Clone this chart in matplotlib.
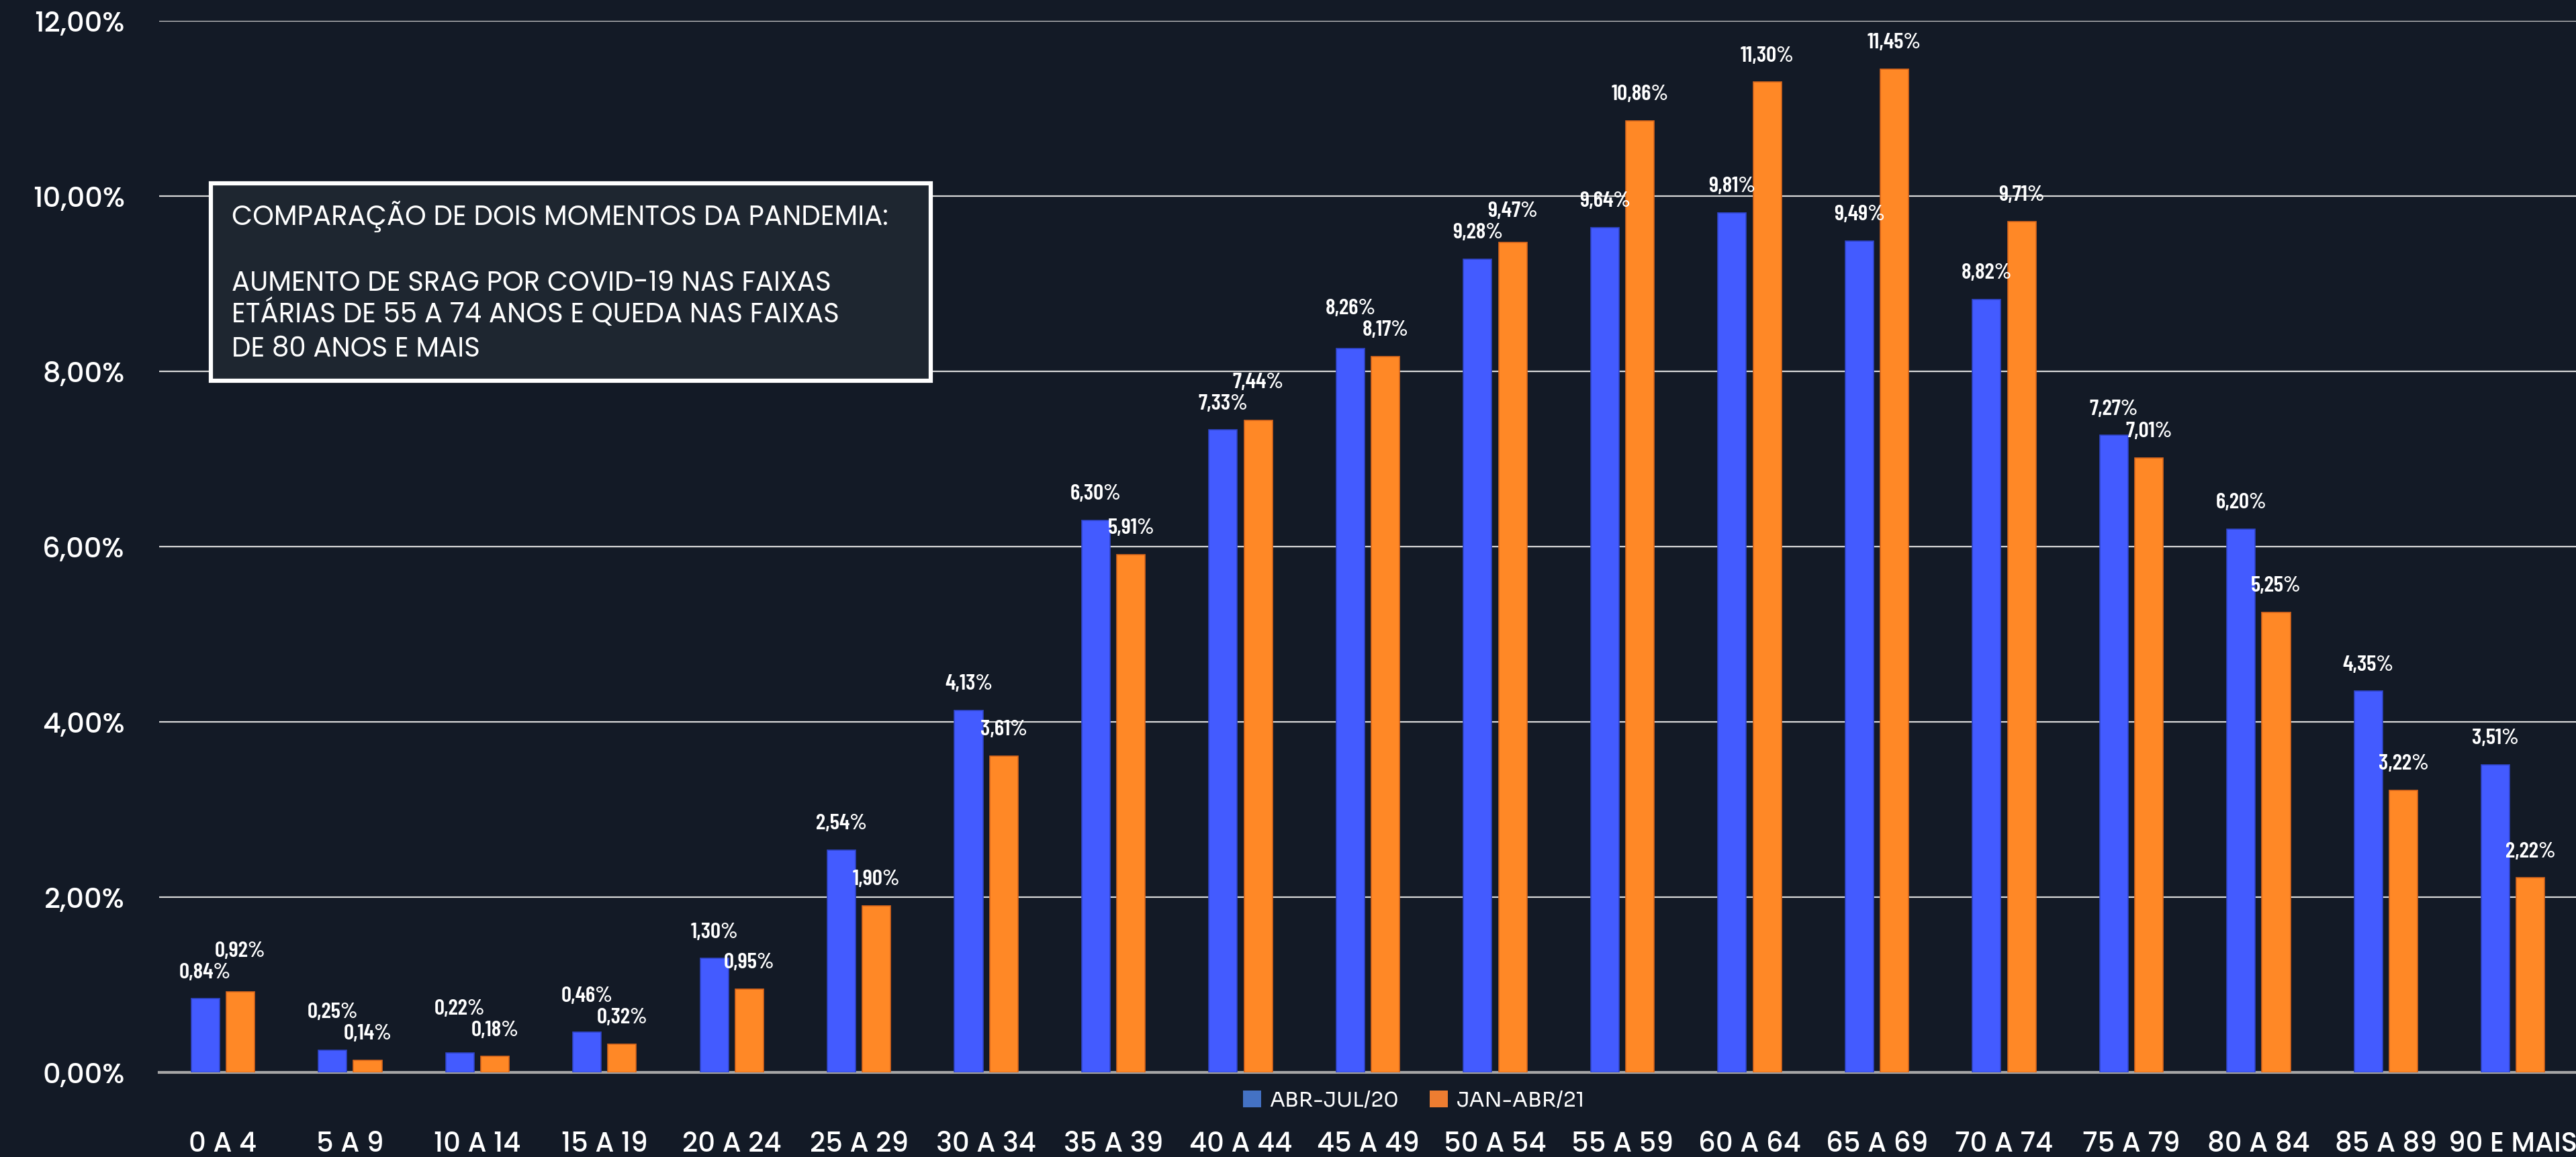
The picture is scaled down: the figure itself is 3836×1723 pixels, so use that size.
import matplotlib
matplotlib.use("Agg")
import matplotlib.pyplot as plt
from matplotlib import font_manager as fm
from matplotlib.patches import Rectangle, Patch
import numpy as np

categories = ["0 A 4", "5 A 9", "10 A 14", "15 A 19", "20 A 24", "25 A 29", "30 A 34",
              "35 A 39", "40 A 44", "45 A 49", "50 A 54", "55 A 59", "60 A 64", "65 A 69",
              "70 A 74", "75 A 79", "80 A 84", "85 A 89", "90 E MAIS"]
abr_jul_20 = [0.84, 0.25, 0.22, 0.46, 1.30, 2.54, 4.13, 6.30, 7.33, 8.26, 9.28, 9.64,
              9.81, 9.49, 8.82, 7.27, 6.20, 4.35, 3.51]
jan_abr_21 = [0.92, 0.14, 0.18, 0.32, 0.95, 1.90, 3.61, 5.91, 7.44, 8.17, 9.47, 10.86,
              11.30, 11.45, 9.71, 7.01, 5.25, 3.22, 2.22]
series_names = ["ABR-JUL/20", "JAN-ABR/21"]
yticks = [0, 2, 4, 6, 8, 10, 12]
box_lines = ["COMPARAÇÃO DE DOIS MOMENTOS DA PANDEMIA:",
             "AUMENTO DE SRAG POR COVID-19 NAS FAIXAS",
             "ETÁRIAS DE 55 A 74 ANOS E QUEDA NAS FAIXAS",
             "DE 80 ANOS E MAIS"]

_avail = {f.name for f in fm.fontManager.ttflist}


def pick(*names):
    for n in names:
        if n in _avail:
            return n
    return "DejaVu Sans"


F_LABEL = pick("Barlow Condensed", "Roboto Condensed", "Oswald", "PT Sans Narrow")
F_TICK = pick("Poppins", "Lato")
F_LEG = pick("Sora", "Poppins", "Lato")
F_BOX = pick("Poppins", "Lato")

BG = "#131a26"
BLUE = "#435bff"
ORANGE = "#ff8826"

fig = plt.figure(figsize=(38.37, 17.24), dpi=100, facecolor=BG)
ax = fig.add_axes([0.0618, 0.0731, 0.9382, 0.9083])
ax.set_facecolor(BG)

x = np.arange(len(categories))
w = 0.222
off = 0.138
b1 = ax.bar(x - off, abr_jul_20, w, color=BLUE, edgecolor="#2f45c8", linewidth=1.2, zorder=3)
b2 = ax.bar(x + off, jan_abr_21, w, color=ORANGE, edgecolor="#d8661c", linewidth=1.2, zorder=3)

ax.set_xlim(-0.5, 18.5)
ax.set_ylim(0, 12)

# label placement: base offset above the bar, staggered when the pair would collide
px_per_unit = ax.get_position().height * fig.get_figheight() * fig.dpi / 12.0
BASE = 29       # points
MIN_SEP = 32    # pixels between label centres of a pair
for i, (rb, ro) in enumerate(zip(b1, b2)):
    vb, vo = abr_jul_20[i], jan_abr_21[i]
    diff_px = abs(vb - vo) * px_per_unit
    extra = max(0.0, MIN_SEP - diff_px) * 72.0 / fig.dpi
    for rect, v, higher in ((rb, vb, vb > vo), (ro, vo, vo >= vb)):
        ax.annotate(f"{v:.2f}%".replace(".", ","),
                    (rect.get_x() + rect.get_width() / 2, v),
                    xytext=(0, BASE + (extra if higher else 0)), textcoords="offset points",
                    ha="center", va="center", color="white",
                    fontsize=24, fontweight="semibold", family=F_LABEL, zorder=4)

ax.set_yticks(yticks)
ax.set_yticklabels([f"{t:.2f}%".replace(".", ",") for t in yticks])
ax.set_xticks(x)
ax.set_xticklabels(categories)
ax.tick_params(axis="y", length=0, pad=37, labelsize=30, labelcolor="white")
ax.tick_params(axis="x", length=0, pad=63, labelsize=29, labelcolor="white")
for t in ax.get_xticklabels() + ax.get_yticklabels():
    t.set_family(F_TICK)
    t.set_fontweight("medium")

ax.grid(axis="y", color="#d9d9d9", linewidth=1.6, zorder=0)
ax.set_axisbelow(True)
for s in ("top", "right", "left"):
    ax.spines[s].set_visible(False)
ax.spines["bottom"].set_color("#a6a6a6")
ax.spines["bottom"].set_linewidth(3)
ax.spines["bottom"].set_zorder(2)

handles = [Patch(facecolor="#4472c4", edgecolor="none"),
           Patch(facecolor="#ed7d31", edgecolor="none")]
fig.legend(handles, series_names, loc="center", bbox_to_anchor=(0.5487, 0.049),
           ncol=2, frameon=False, prop={"family": F_LEG, "size": 22, "weight": "medium"},
           labelcolor="white", handlelength=0.9, handleheight=0.9, handletextpad=0.4,
           columnspacing=1.5)

# text box
fig.add_artist(Rectangle((0.0818, 0.6705), 0.2795, 0.1705, transform=fig.transFigure,
                         facecolor="#1e2630", edgecolor="white", linewidth=4.5, zorder=10))
line_y = [0.8057, 0.7488, 0.7216, 0.6920]
for txt, yy in zip(box_lines, line_y):
    fig.text(0.0899, yy, txt, color="white", fontsize=29, va="baseline", ha="left",
             family=F_BOX, zorder=11)

fig.savefig("out.png", dpi=100, facecolor=BG)
